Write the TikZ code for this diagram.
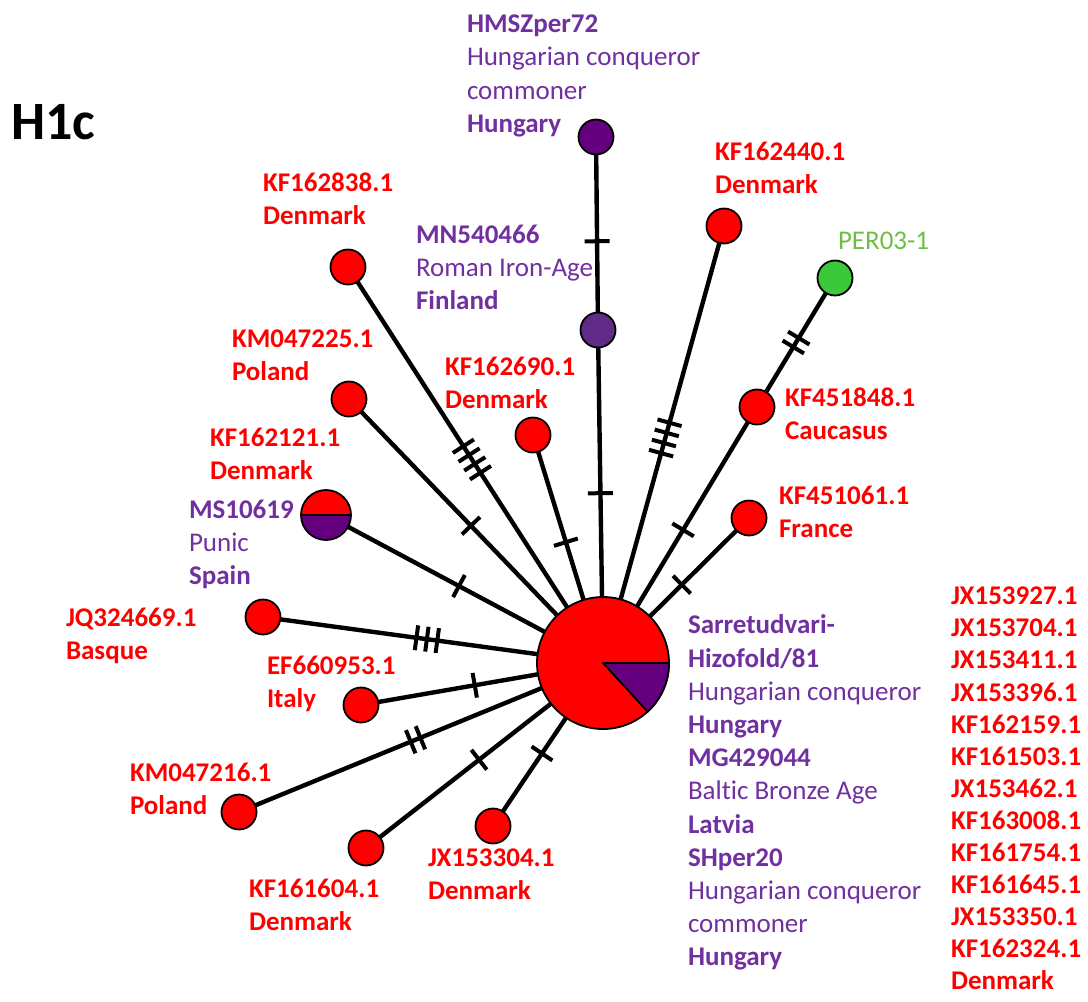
\documentclass[tikz,border=0pt]{standalone}
\usepackage{fontspec}
\setmainfont[Ligatures={NoCommon}]{Carlito}
\usetikzlibrary{calc}
\definecolor{hapred}{RGB}{255,0,0}
\definecolor{txtpurple}{RGB}{112,48,160}
\definecolor{darkpurple}{RGB}{100,0,125}
\definecolor{midpurple}{RGB}{96,43,135}
\definecolor{hapgreen}{RGB}{59,200,59}
\definecolor{txtgreen}{RGB}{109,190,69}
\pgfdeclarelayer{bg}
\pgfsetlayers{bg,main}

% mutation ticks: from node, to node, fraction along the link, number of ticks
\newcommand\mutmarks[4]{%
  \foreach \k in {1,...,#4}{
    \pgfmathsetmacro\off{(\k-(#4+1)/2)*10.5}
    \coordinate (mm) at ($(#1)!#3!(#2)$);
    \coordinate (mp) at ($(mm)!\off pt!(#2)$);
    \draw[mutation] ($(mp)!12.5pt!90:(#2)$) -- ($(mp)!12.5pt!-90:(#2)$);
  }}

\begin{document}
\begin{tikzpicture}[x=1pt,y=-1pt,
  every node/.style={inner sep=0pt,outer sep=0pt},
  hap/.style={circle,draw=black,line width=1.8pt,minimum size=35pt,fill=hapred},
  hubnode/.style={circle,draw=black,line width=1.8pt,minimum size=132pt,fill=hapred},
  link/.style={line width=4.4pt,black},
  mutation/.style={line width=4pt,black},
  redlbl/.style={anchor=north west,align=left,text=hapred,
    font=\fontsize{27}{33}\selectfont\bfseries},
  purplbl/.style={anchor=north west,align=left,text=txtpurple,
    font=\fontsize{27}{33.2}\selectfont},
]
\useasboundingbox (0,0) rectangle (1088,1002);

% title
\node[anchor=north west,font=\fontsize{54}{60}\selectfont\bfseries] (title) at (11,104) {H1c};

% haplotype circles
\node[hubnode] (hub) at (603,663) {};
\node[hap] (n1) at (348,267) {};
\node[hap] (n2) at (349,399) {};
\node[hap] (n3) at (533,435) {};
\node[hap,fill=midpurple] (mn) at (598,330) {};
\node[hap,fill=darkpurple] (hm) at (596,137) {};
\node[hap] (n4) at (724,226) {};
\node[hap,fill=hapgreen] (per) at (835,278) {};
\node[hap] (n5) at (757,407) {};
\node[hap] (n6) at (749,518) {};
\node[hap,minimum size=50pt,fill=none,
  path picture={
    \fill[hapred] (path picture bounding box.north west) rectangle (path picture bounding box.east);
    \fill[darkpurple] (path picture bounding box.west) rectangle (path picture bounding box.south east);
    \draw[line width=2pt] (path picture bounding box.west) -- (path picture bounding box.east);
  }] (ms) at (326,515) {};
\node[hap] (n7) at (263,617) {};
\node[hap] (n8) at (361,705) {};
\node[hap] (n9) at (239,812) {};
\node[hap] (n10) at (366,848) {};
\node[hap] (n11) at (493,826) {};

% purple sector of the central haplotype
\filldraw[fill=darkpurple,draw=black,line width=1.8pt,line join=round]
  (hub.center) -- ++(66pt,0pt) arc[start angle=0,end angle=-47.5,radius=66pt] -- cycle;

% links
\begin{pgfonlayer}{bg}
\foreach \a in {n1,n2,n3,mn,n4,n5,n6,ms,n7,n8,n9,n10,n11}
  \draw[link] (\a.center) -- (hub.center);
\draw[link] (hm.center) -- (mn.center);
\draw[link] (per.center) -- (n5.center);
\end{pgfonlayer}

% mutation steps
\mutmarks{n1}{hub}{0.486}{4}
\mutmarks{n2}{hub}{0.48}{1}
\mutmarks{n3}{hub}{0.47}{1}
\mutmarks{mn}{hub}{0.49}{1}
\mutmarks{hm}{mn}{0.54}{1}
\mutmarks{n4}{hub}{0.485}{4}
\mutmarks{per}{n5}{0.5}{2}
\mutmarks{n5}{hub}{0.48}{1}
\mutmarks{n6}{hub}{0.46}{1}
\mutmarks{ms}{hub}{0.48}{1}
\mutmarks{n7}{hub}{0.482}{3}
\mutmarks{n8}{hub}{0.47}{1}
\mutmarks{n9}{hub}{0.485}{2}
\mutmarks{n10}{hub}{0.477}{1}
\mutmarks{n11}{hub}{0.445}{1}

% labels
\node[redlbl] (l1) at (263,173) {KF162838.1\\Denmark};
\node[redlbl] (l2) at (232,330) {KM047225.1\\Poland};
\node[redlbl] (l3) at (445,357) {KF162690.1\\Denmark};
\node[redlbl] (l4) at (210,428) {KF162121.1\\Denmark};
\node[purplbl] (l5) at (189,500) {\textbf{MS10619}\\Punic\\\textbf{Spain}};
\node[redlbl] (l6) at (66,608) {JQ324669.1\\Basque};
\node[redlbl] (l7) at (267,656) {EF660953.1\\Italy};
\node[redlbl] (l8) at (130,763) {KM047216.1\\Poland};
\node[redlbl] (l9) at (249,879) {KF161604.1\\Denmark};
\node[redlbl] (l10) at (428,849) {JX153304.1\\Denmark};
\node[purplbl] (l11) at (467,15) {\textbf{HMSZper72}\\Hungarian conqueror\\commoner\\\textbf{Hungary}};
\node[purplbl] (l12) at (416,225) {\textbf{MN540466}\\Roman Iron-Age\\\textbf{Finland}};
\node[redlbl] (l13) at (715,142) {KF162440.1\\Denmark};
\node[redlbl,text=txtgreen,font=\fontsize{27}{33}\selectfont] (l14) at (838,232) {PER03-1};
\node[redlbl] (l15) at (785,388) {KF451848.1\\Caucasus};
\node[redlbl] (l16) at (779,486) {KF451061.1\\France};
\node[purplbl] (l17) at (688,615) {\textbf{Sarretudvari-}\\\textbf{Hizofold/81}\\Hungarian conqueror\\\textbf{Hungary}\\\textbf{MG429044}\\Baltic Bronze Age\\\textbf{Latvia}\\\textbf{SHper20}\\Hungarian conqueror\\commoner\\\textbf{Hungary}};
\node[redlbl,font=\fontsize{27}{32.1}\selectfont\bfseries] (l18) at (951,587)
  {JX153927.1\\JX153704.1\\JX153411.1\\JX153396.1\\KF162159.1\\KF161503.1\\JX153462.1\\KF163008.1\\KF161754.1\\KF161645.1\\JX153350.1\\KF162324.1\\Denmark};
\end{tikzpicture}
\end{document}
